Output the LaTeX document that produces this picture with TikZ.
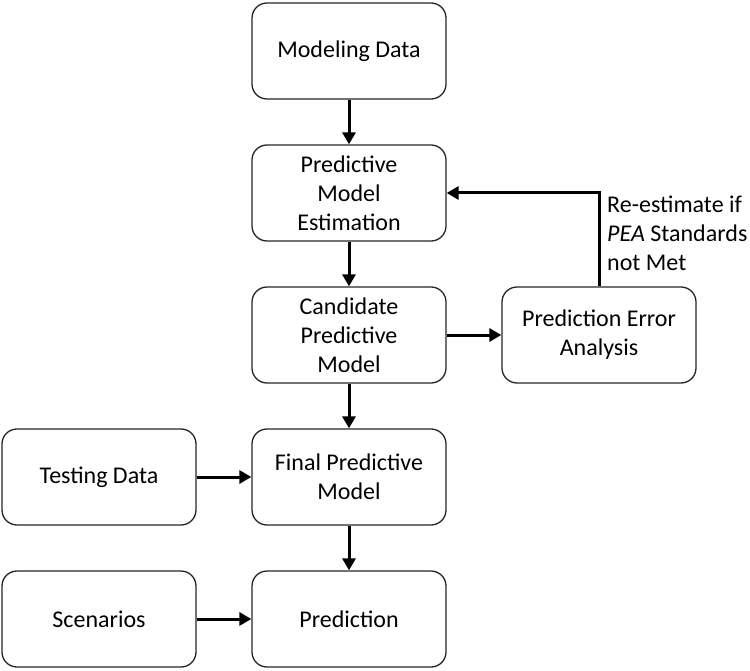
\documentclass[tikz,border=0pt]{standalone}
\usepackage{fontspec}
\setmainfont{Carlito}
\usetikzlibrary{positioning, arrows.meta}

\begin{document}
\begin{tikzpicture}[node distance=142pt]
    \tikzstyle{box}=[draw=black!85, line width=1.3pt, rectangle, rounded corners=15pt,
      minimum width=194pt, minimum height=96pt, align=center,
      font=\fontsize{24}{29}\selectfont];
    \tikzstyle{arr}=[line width=3pt, -{Triangle[length=12pt,width=13pt]}];
    \useasboundingbox (0pt,0pt) rectangle (750pt,-671pt);

    \node[box] (modeling) at (349pt,-51pt) {Modeling Data};
    \node[box, below of=modeling] (estimation) {Predictive\\Model\\Estimation};
    \node[box, below of=estimation] (candidate) {Candidate\\Predictive\\Model};
    \node[box, node distance=250pt, right of=candidate] (pea) {Prediction Error\\Analysis};
    \node[box, below of=candidate] (final) {Final Predictive\\Model};
    \node[box, node distance=250pt, left of=final] (testing) {Testing Data};
    \node[box, below of=final] (prediction) {Prediction};
    \node[box, node distance=250pt, left of=prediction] (scenarios) {Scenarios};
    \node[align=left, anchor=north west, inner sep=0pt, font=\fontsize{24}{29}\selectfont]
      (restimate) at (607pt,-196pt) {Re-estimate if\\\textit{PEA} Standards\\not Met};

    \path[arr]
    (modeling) edge (estimation)
    (estimation) edge (candidate)
    (candidate) edge (final)
    (final) edge (prediction)
    (candidate) edge (pea)
    (testing) edge (final)
    (scenarios) edge (prediction);
    \draw[arr] (pea.north) |- (estimation.east);
  \end{tikzpicture}
\end{document}
